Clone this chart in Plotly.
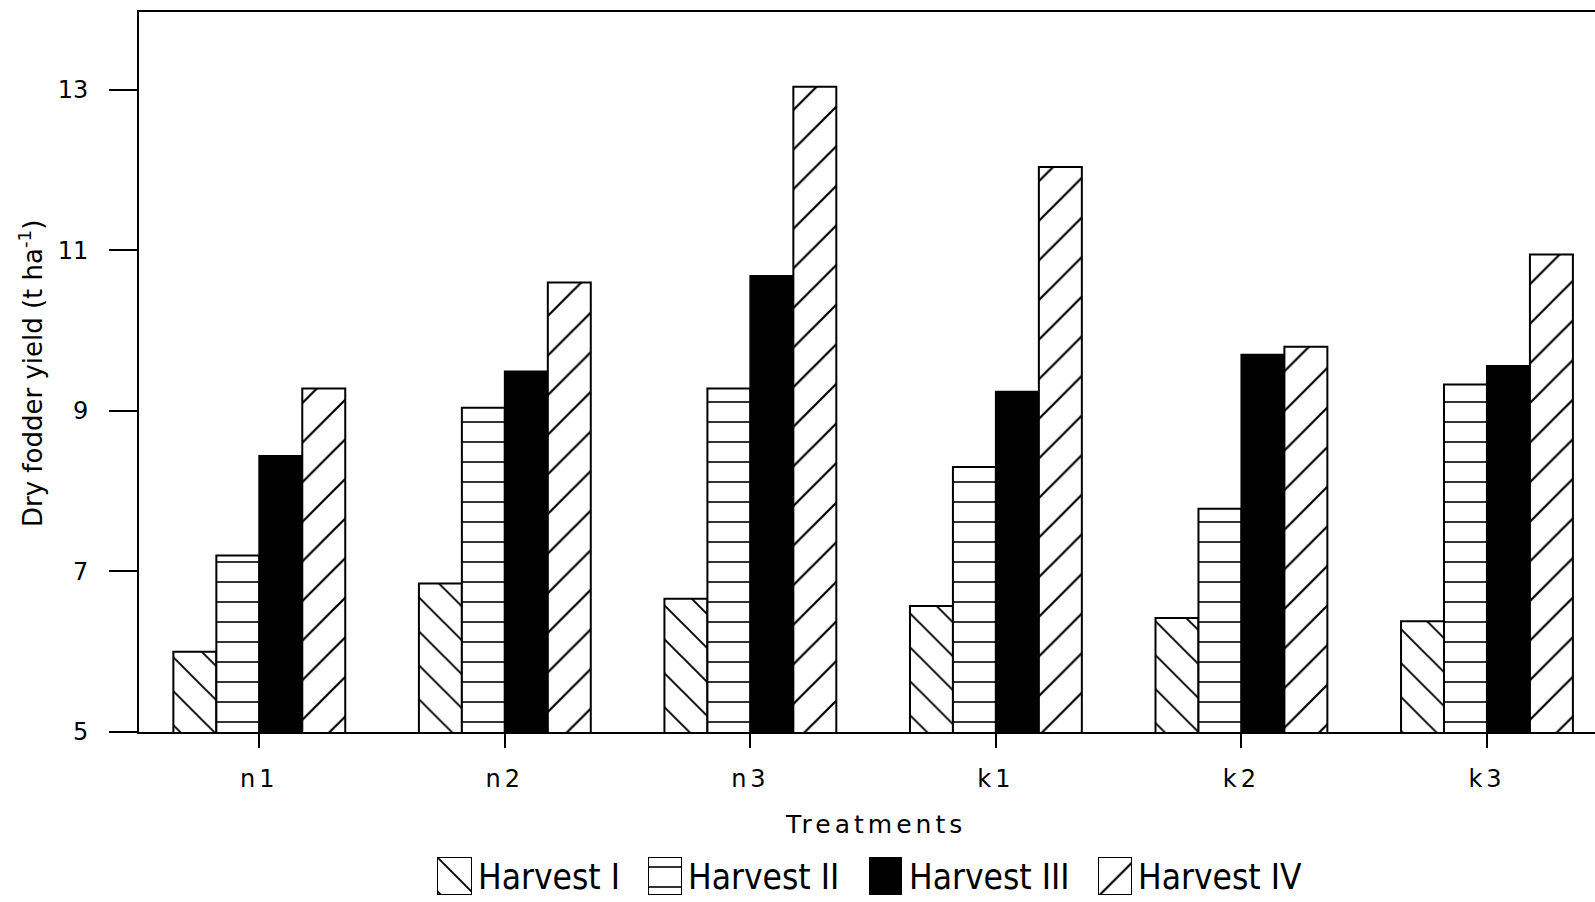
import plotly.graph_objects as go

# Dry fodder yield (t/ha) per treatment and harvest
categories = ["n1", "n2", "n3", "k1", "k2", "k3"]
harvest_i = [6.00, 6.85, 6.66, 6.57, 6.42, 6.38]
harvest_ii = [7.20, 9.04, 9.28, 8.30, 7.78, 9.33]
harvest_iii = [8.44, 9.49, 10.68, 9.24, 9.70, 9.56]
harvest_iv = [9.28, 10.60, 13.04, 12.04, 9.80, 10.95]
series_names = ["Harvest I", "Harvest II", "Harvest III", "Harvest IV"]
y_ticks = [5, 7, 9, 11, 13]

series_values = [harvest_i, harvest_ii, harvest_iii, harvest_iv]

# page geometry (pixels)
W, H = 1595, 902
M_L, M_T = 139, 12
AXIS_BOTTOM = 732
PAPER_H = H - M_T
PAPER_W = W - M_L


def px(x):
    return (x - M_L) / PAPER_W


def py(y):
    return (H - y) / PAPER_H


# hatch tile sizes per pattern shape
TILE = {"\\": 24, "-": 20, "/": 28}


def fill_style(shape):
    if shape is None:
        return dict(color="black")
    return dict(color="black",
                pattern=dict(shape=shape, size=TILE[shape], solidity=0.08,
                             fgcolor="#000000", fgopacity=1,
                             bgcolor="white", fillmode="replace"))


shapes = ["\\", "-", None, "/"]
edge = dict(color="black", width=2)

fig = go.Figure()
for name, vals, shp in zip(series_names, series_values, shapes):
    fig.add_trace(go.Bar(x=categories, y=vals, name=name, showlegend=False,
                         marker=dict(**fill_style(shp), line=edge)))

# legend: one swatch bar per series on its own tiny axes, plus a text label
swatch_x = [(437, 472), (648, 682), (869, 902), (1098, 1132)]
label_x = [476, 686, 907, 1136]
swatch_y = (857, 895)
annotations = []
for i, (name, shp) in enumerate(zip(series_names, shapes)):
    n = i + 2
    fig.add_trace(go.Bar(x=[name], y=[1], width=1, showlegend=False,
                         xaxis=f"x{n}", yaxis=f"y{n}", hoverinfo="skip",
                         marker=dict(**fill_style(shp), line=edge)))
    fig.update_layout(**{
        f"xaxis{n}": dict(domain=[px(swatch_x[i][0]), px(swatch_x[i][1])],
                          anchor=f"y{n}", visible=False, range=[-0.5, 0.5]),
        f"yaxis{n}": dict(domain=[py(swatch_y[1]), py(swatch_y[0])],
                          anchor=f"x{n}", visible=False, range=[0, 1]),
    })
    annotations.append(dict(text=name, xref="paper", yref="paper",
                            x=px(label_x[i]), y=py(877), xanchor="left",
                            yanchor="middle", showarrow=False,
                            font=dict(family="DejaVu Sans Condensed, Liberation Sans Narrow",
                                      size=35, color="black")))

annotations.append(dict(text="Dry fodder yield (t ha<sup>-1</sup>)",
                        textangle=-90, xref="paper", yref="paper",
                        x=px(31), y=py(374), xanchor="center", yanchor="middle",
                        showarrow=False,
                        font=dict(family="DejaVu Sans", size=26, color="black")))
annotations.append(dict(text='<span style="letter-spacing:4px">Treatments</span>',
                        xref="paper", yref="paper", x=px(875), y=py(824),
                        xanchor="center", yanchor="middle", showarrow=False,
                        font=dict(family="DejaVu Sans", size=25, color="black")))

fig.update_layout(
    width=W, height=H,
    margin=dict(l=M_L, r=0, t=M_T, b=0, autoexpand=False),
    paper_bgcolor="white", plot_bgcolor="white",
    barmode="group", bargap=0.30, bargroupgap=0,
    xaxis=dict(domain=[0, 1], range=[-0.49, 5.44], showgrid=False, zeroline=False,
               showline=True, linecolor="black", linewidth=2, mirror=True,
               ticks="outside", ticklen=14, tickwidth=1.5, tickcolor="black",
               tickmode="array", tickvals=categories,
               ticktext=[f'<span style="letter-spacing:4px">{c}</span>' for c in categories],
               tickfont=dict(family="DejaVu Sans", size=24, color="black"),
               ticklabelstandoff=10, anchor="y"),
    yaxis=dict(domain=[py(AXIS_BOTTOM), 1], range=[5, 13.97], showgrid=False,
               zeroline=False, showline=True, linecolor="black", linewidth=2,
               ticks="outside", ticklen=28, tickwidth=2, tickcolor="black",
               tickvals=y_ticks, ticklabelstandoff=16,
               tickfont=dict(family="DejaVu Sans", size=24, color="black"),
               anchor="x"),
    annotations=annotations,
    font=dict(family="DejaVu Sans", color="black"),
)

fig.write_html("out.html")
